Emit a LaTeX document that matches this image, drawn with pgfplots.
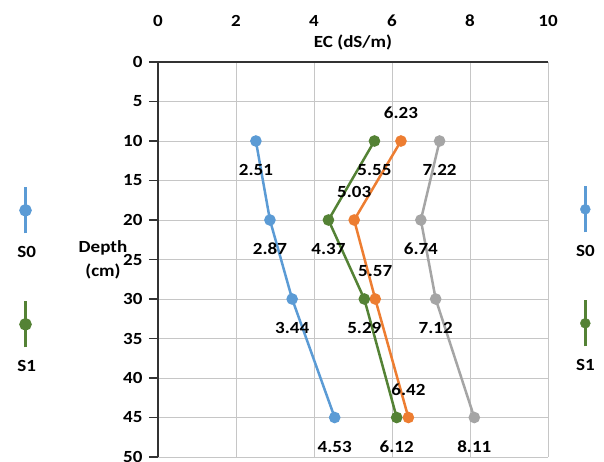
\documentclass[border=0pt]{standalone}
\usepackage{pgfplots}
\pgfplotsset{compat=1.18}
\usepackage{fontspec}
\setmainfont{Carlito}[FakeStretch=1.12]
\definecolor{cblue}{HTML}{5B9BD5}
\definecolor{corange}{HTML}{ED7D31}
\definecolor{cgray}{HTML}{A5A5A5}
\definecolor{cgreen}{HTML}{548235}
\newcommand{\cf}{\fontsize{17}{20}\selectfont\bfseries}
\pgfplotsset{
  legsym/.style={
    legend image code/.code={
      \path (0pt,0pt);
      \draw[##1, overlay, line width=3pt] (10pt,18pt) -- (10pt,64pt);
      \fill[##1, overlay] (10pt,41pt) circle (5pt);
    }
  },
  legbox/.style={
    legend style={draw=none, fill=none, inner sep=0pt, row sep=102pt, column sep=0pt,
      nodes={inner sep=0pt, text height=12pt, text depth=0pt, text width=20pt, align=center, font=\cf}},
    legend cell align=left
  }
}
\begin{document}
\begin{tikzpicture}[x=1pt,y=1pt,font=\cf]
\useasboundingbox (0,0) rectangle (604,462);
\begin{axis}[
  at={(158pt,5pt)}, anchor=south west,
  scale only axis, width=390pt, height=395pt,
  xmin=0, xmax=10, ymin=0, ymax=50, y dir=reverse,
  axis x line*=top, axis y line*=left,
  axis line style={black!80, line width=1.4pt},
  xtick={0,2,...,10}, ytick={0,5,...,50},
  grid=major, major grid style={gray!45, line width=0.8pt},
  xtick style={draw=none},
  ytick style={black!80, line width=1.2pt},
  tick align=outside, major tick length=9pt,
  /pgf/number format/assume math mode=true,
  tick label style={font=\cf},
  xticklabel style={anchor=center, yshift=32pt},
  yticklabel style={anchor=east, xshift=-2pt},
  xlabel={EC (dS/m)},
  every axis x label/.style={at={(axis description cs:0.5,1)}, anchor=center, yshift=20pt, font=\cf},
  ylabel={Depth\\[4pt](cm)},
  every axis y label/.style={at={(axis description cs:0,0.5)}, anchor=center, xshift=-55pt, align=center, font=\cf},
  line width=2.5pt,
  mark size=4.5pt,
  nodes near coords={\pgfmathprintnumber[fixed,precision=2,fixed zerofill,assume math mode=true]{\pgfplotspointmeta}},
  point meta=x,
  nodes near coords style={font=\cf, anchor=center},
  clip=false,
  legsym, legbox,
  legend style={at={(axis description cs:-0.3718,0.539)}, anchor=north west},
]
\addplot[cblue, mark=*, every node near coord/.append style={yshift=-29pt, black}, forget plot]
  coordinates {(2.51,10) (2.87,20) (3.44,30) (4.53,45)};
\addplot[corange, mark=*, every node near coord/.append style={yshift=28pt, black}, forget plot]
  coordinates {(6.23,10) (5.03,20) (5.57,30) (6.42,45)};
\addplot[cgray, mark=*, every node near coord/.append style={yshift=-29pt, black}, forget plot]
  coordinates {(7.22,10) (6.74,20) (7.12,30) (8.11,45)};
\addplot[cgreen, mark=*, every node near coord/.append style={yshift=-29pt, black}, forget plot]
  coordinates {(5.55,10) (4.37,20) (5.29,30) (6.12,45)};
\addlegendimage{cblue}
\addlegendentry{S0}
\addlegendimage{cgreen}
\addlegendentry{S1}
\end{axis}
\begin{axis}[
  at={(158pt,5pt)}, anchor=south west,
  scale only axis, width=390pt, height=395pt,
  xmin=0, xmax=10, ymin=0, ymax=50, hide axis,
  legsym, legbox,
  legend style={at={(axis description cs:1.069,0.539)}, anchor=north west},
]
\addlegendimage{cblue}
\addlegendentry{S0}
\addlegendimage{cgreen}
\addlegendentry{S1}
\end{axis}
\end{tikzpicture}
\end{document}
